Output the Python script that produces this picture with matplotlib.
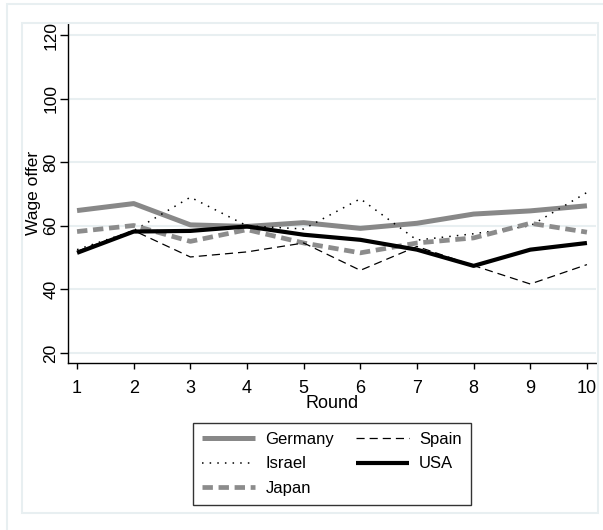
import matplotlib
matplotlib.use("Agg")
import matplotlib.pyplot as plt
from matplotlib.patches import Rectangle

plt.rcParams['font.family'] = ['Liberation Sans', 'DejaVu Sans']

rounds = [1, 2, 3, 4, 5, 6, 7, 8, 9, 10]
germany = [64.8, 67.0, 60.3, 59.8, 61.0, 59.2, 60.8, 63.7, 64.7, 66.3]
israel = [52.5, 58.5, 69.0, 60.0, 59.0, 68.5, 55.5, 57.5, 60.0, 70.5]
japan = [58.2, 60.1, 55.1, 58.8, 54.6, 51.5, 54.6, 56.2, 60.8, 58.0]
spain = [52.0, 58.5, 50.2, 51.8, 54.6, 46.0, 53.5, 47.5, 41.7, 47.8]
usa = [51.5, 58.2, 58.4, 59.8, 57.2, 55.6, 52.5, 47.4, 52.5, 54.6]

W, H = 603, 530
fig = plt.figure(figsize=(W / 100, H / 100), dpi=100)
frame = "#e8eff1"

# graph region + plot region outlines (Stata style)
fig.patches.append(Rectangle((7 / W, -0.1), 1.1, 1 - 4 / H + 0.1, transform=fig.transFigure,
                             fill=False, ec=frame, lw=1.5))
fig.patches.append(Rectangle((22 / W, 1 - 513 / H), (598 - 22) / W, (513 - 23) / H,
                             transform=fig.transFigure, fill=False, ec=frame, lw=1.5))

ax = fig.add_axes([68 / W, 1 - 363 / H, (596 - 68) / W, (363 - 23) / H])

l_ger, = ax.plot(rounds, germany, color="#888888", lw=3.6, solid_capstyle='butt', label="Germany")
l_isr, = ax.plot(rounds, israel, color="black", lw=1.1, ls=(0, (1, 4)), label="Israel")
l_jap, = ax.plot(rounds, japan, color="#8c8c8c", lw=3.4, ls=(0, (2.2, 1.2)), label="Japan")
l_spa, = ax.plot(rounds, spain, color="black", lw=0.9, ls=(0, (6.5, 4)), label="Spain")
l_usa, = ax.plot(rounds, usa, color="black", lw=3.0, solid_capstyle='butt', label="USA")

ax.set_xlim(0.84, 10.16)
ax.set_ylim(16.85, 123.8)
ax.set_xticks(rounds)
ax.set_yticks([20, 40, 60, 80, 100, 120])
ax.set_yticklabels(["20", "40", "60", "80", "100", "120"], rotation=90, va="center")
ax.tick_params(axis="x", labelsize=13, length=4.5, width=1, direction="out", pad=8)
ax.tick_params(axis="y", labelsize=12.5, length=5.5, width=1, direction="out", pad=1.5)
ax.grid(axis="y", color=frame, lw=1.5)
ax.set_axisbelow(True)
for s in ["top", "right"]:
    ax.spines[s].set_visible(False)
for s in ["left", "bottom"]:
    ax.spines[s].set_linewidth(1.0)

ax.set_xlabel("Round", fontsize=13, labelpad=-2)
ax.set_ylabel("Wage offer", fontsize=12.5)
ax.yaxis.set_label_coords(-0.051, 0.5)

leg = fig.legend(handles=[l_ger, l_isr, l_jap, l_spa, l_usa], ncol=2, loc="center",
                 bbox_to_anchor=(332 / W, 1 - 464 / H), fontsize=12, frameon=True,
                 fancybox=False, edgecolor="black", handlelength=3.2, columnspacing=1.3,
                 labelspacing=0.58, borderpad=0.55, handletextpad=0.6)
leg.get_frame().set_linewidth(1.0)

fig.savefig("out.png", dpi=100)
